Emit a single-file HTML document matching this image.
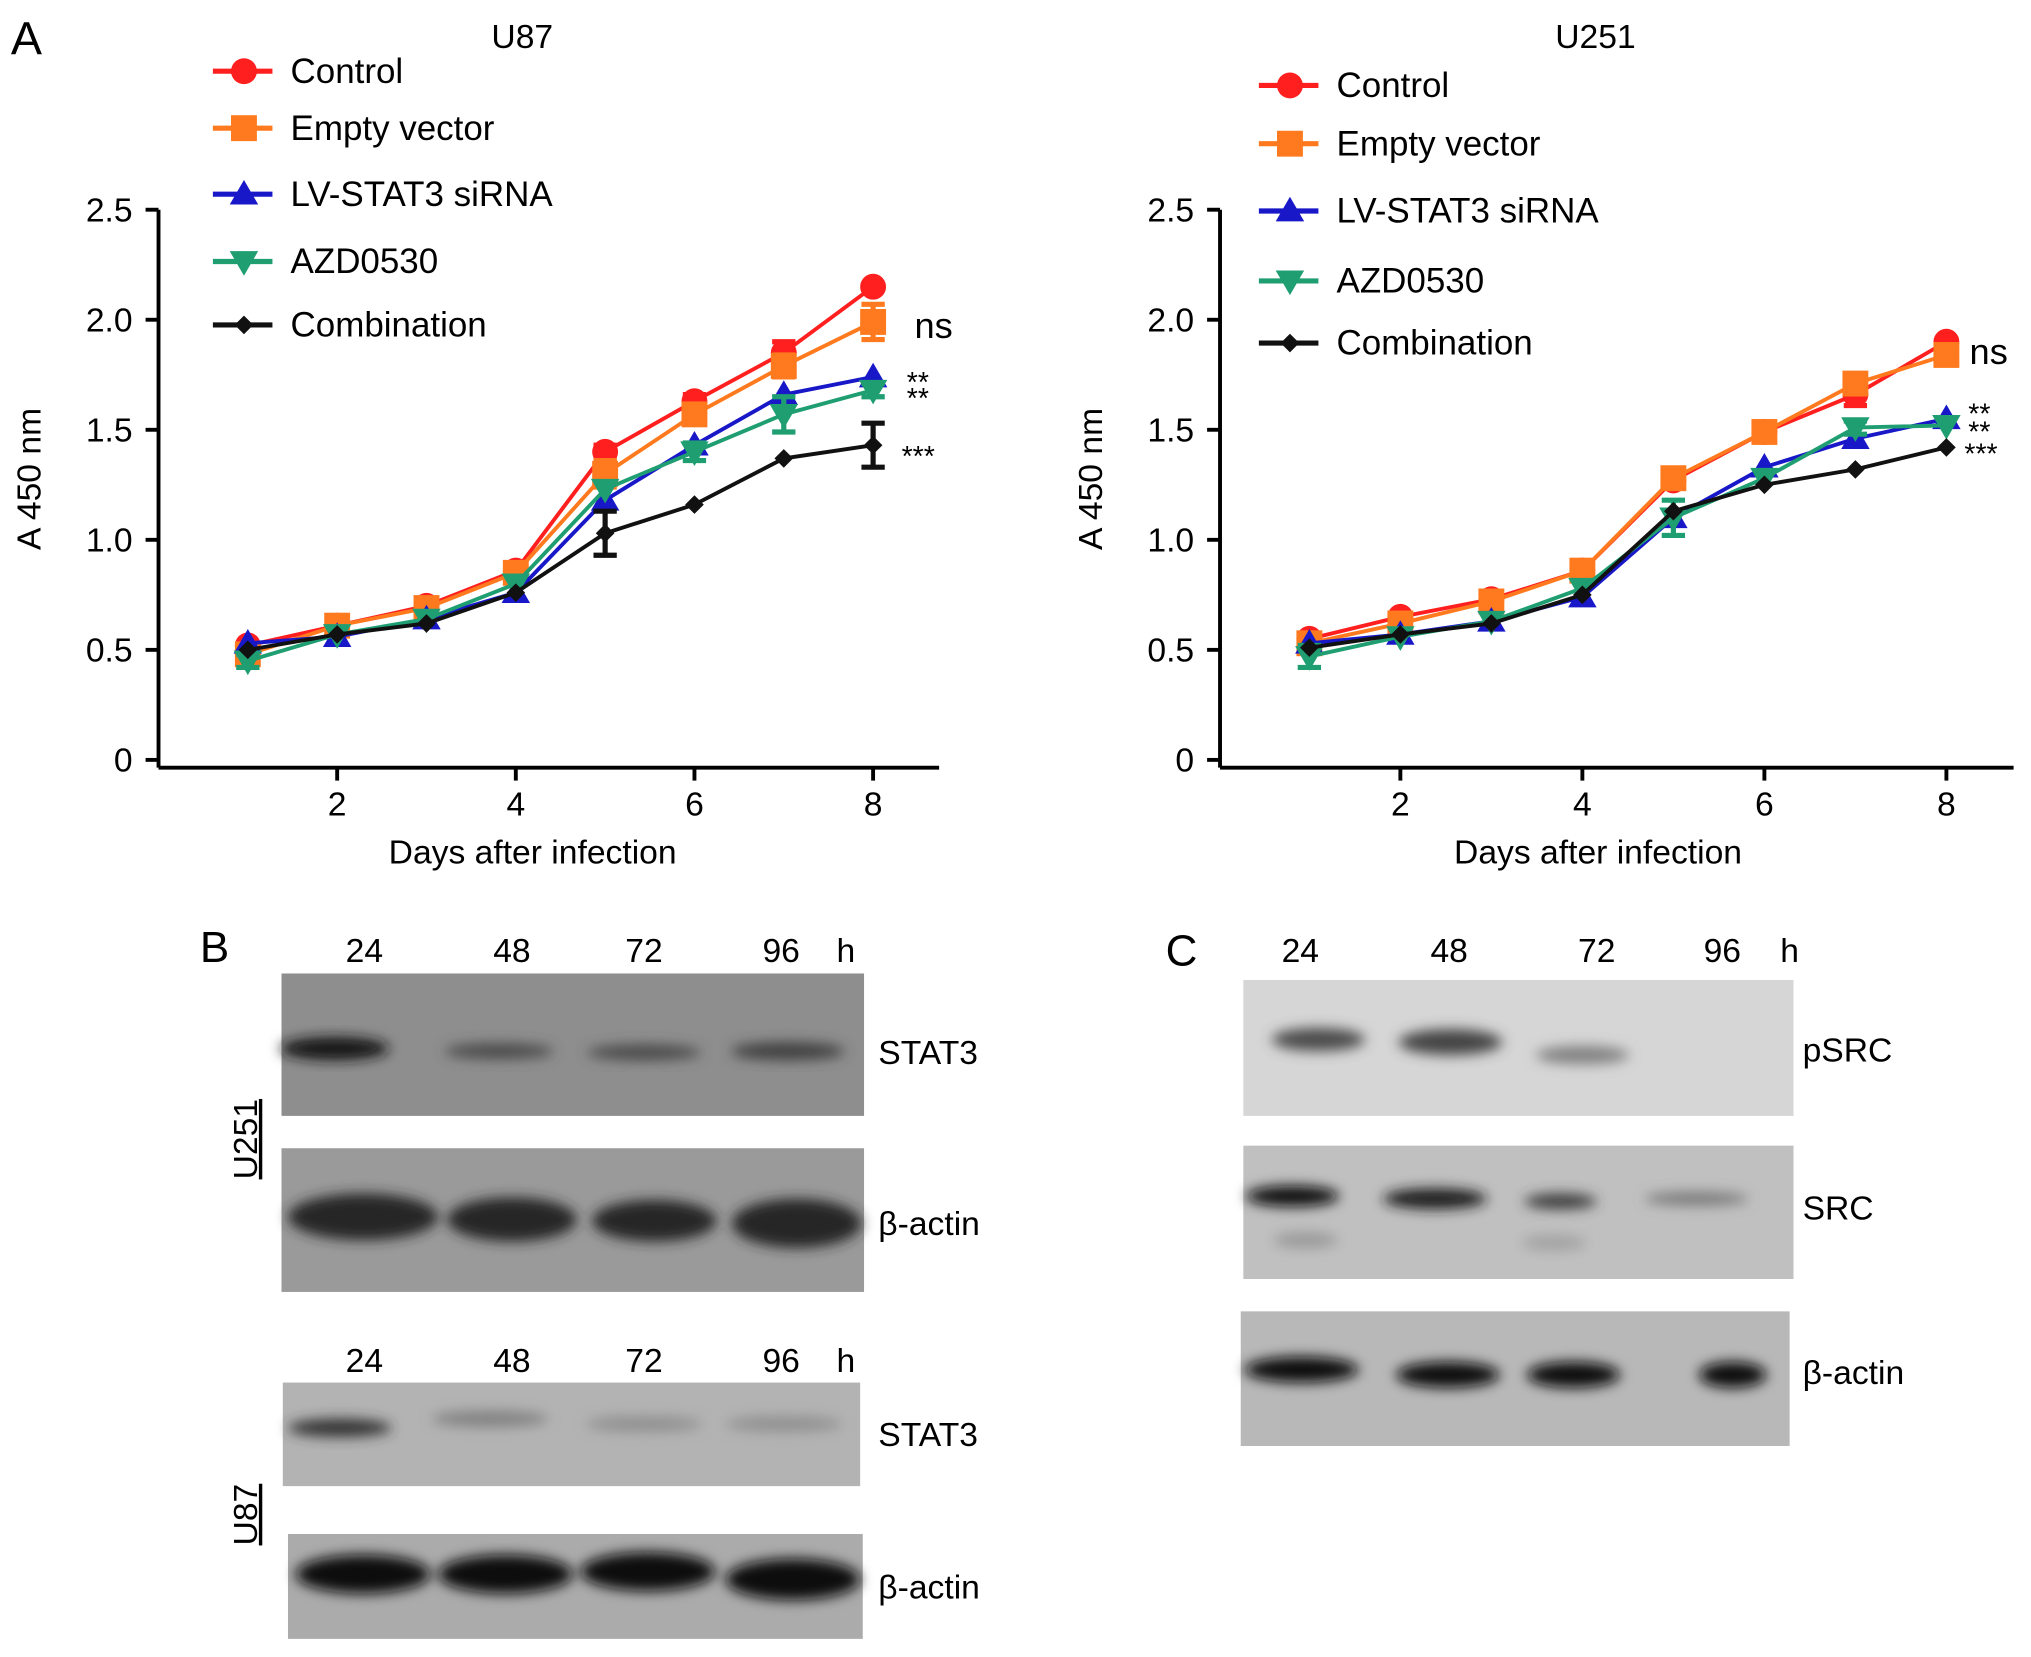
<!DOCTYPE html>
<html><head><meta charset="utf-8">
<style>
html,body{margin:0;padding:0;background:#fff;}
svg{display:block;font-family:"Liberation Sans",Arial,sans-serif;}
</style></head>
<body>
<svg id="fig" width="2031" height="1657" viewBox="0 0 1568 1280" xmlns="http://www.w3.org/2000/svg">
<defs>
<filter id="blur" x="-20%" y="-50%" width="140%" height="200%"><feGaussianBlur stdDeviation="5"/></filter>
</defs>
<text x="8" y="42" font-size="36">A</text>
<g id="chartL"></g>
<g id="chartR"></g>

<!-- Panel B -->
<g font-size="26">
<text x="154" y="743" font-size="34">B</text>
<g text-anchor="middle">
<text x="281" y="743">24</text><text x="395" y="743">48</text><text x="497" y="743">72</text><text x="603" y="743">96</text><text x="653" y="743">h</text></g>
<rect x="217" y="752" width="450" height="110" fill="#8e8e8e"/>
<g filter="url(#blur)" fill="#2a2a2a">
<ellipse cx="258" cy="810" rx="42" ry="9" fill="#151515"/><ellipse cx="385" cy="812" rx="42" ry="6" fill="#4a4a4a"/><ellipse cx="497" cy="813" rx="44" ry="6" fill="#4a4a4a"/><ellipse cx="608" cy="812" rx="44" ry="7" fill="#3f3f3f"/></g>
<rect x="217" y="887" width="450" height="111" fill="#9a9a9a"/>
<g filter="url(#blur)" fill="#262626">
<ellipse cx="280" cy="940" rx="58" ry="18"/><ellipse cx="395" cy="942" rx="50" ry="17"/><ellipse cx="505" cy="943" rx="48" ry="16"/><ellipse cx="615" cy="945" rx="50" ry="19"/></g>
<text x="678" y="822">STAT3</text><text x="678" y="954">β-actin</text>
<text transform="translate(198,880) rotate(-90)" text-anchor="middle" text-decoration="underline">U251</text>
<g text-anchor="middle">
<text x="281" y="1060">24</text><text x="395" y="1060">48</text><text x="497" y="1060">72</text><text x="603" y="1060">96</text><text x="653" y="1060">h</text></g>
<rect x="218" y="1068" width="446" height="80" fill="#b3b3b3"/>
<g filter="url(#blur)">
<ellipse cx="262" cy="1103" rx="40" ry="7" fill="#303030"/><ellipse cx="378" cy="1096" rx="45" ry="6" fill="#808080"/><ellipse cx="497" cy="1100" rx="45" ry="6" fill="#909090"/><ellipse cx="605" cy="1100" rx="45" ry="6" fill="#909090"/></g>
<rect x="222" y="1185" width="444" height="81" fill="#ababab"/>
<g filter="url(#blur)" fill="#0c0c0c">
<ellipse cx="280" cy="1216" rx="52" ry="15"/><ellipse cx="390" cy="1216" rx="52" ry="15"/><ellipse cx="500" cy="1214" rx="52" ry="15"/><ellipse cx="612" cy="1220" rx="52" ry="16"/></g>
<text x="678" y="1117">STAT3</text><text x="678" y="1235">β-actin</text>
<text transform="translate(198,1170) rotate(-90)" text-anchor="middle" text-decoration="underline">U87</text>
</g>

<!-- Panel C -->
<g font-size="26">
<text x="900" y="746" font-size="34">C</text>
<g text-anchor="middle">
<text x="1004" y="743">24</text><text x="1119" y="743">48</text><text x="1233" y="743">72</text><text x="1330" y="743">96</text><text x="1382" y="743">h</text></g>
<rect x="960" y="757" width="425" height="105" fill="#d6d6d6"/>
<g filter="url(#blur)">
<ellipse cx="1018" cy="803" rx="36" ry="9" fill="#4c4c4c"/><ellipse cx="1120" cy="805" rx="40" ry="10" fill="#444"/><ellipse cx="1222" cy="815" rx="36" ry="7" fill="#808080"/></g>
<rect x="960" y="885" width="425" height="103" fill="#c0c0c0"/>
<g filter="url(#blur)">
<ellipse cx="998" cy="924" rx="36" ry="8" fill="#0f0f0f"/><ellipse cx="1108" cy="926" rx="40" ry="8" fill="#1e1e1e"/><ellipse cx="1205" cy="928" rx="28" ry="6" fill="#3a3a3a"/><ellipse cx="1310" cy="926" rx="40" ry="5" fill="#777"/>
<ellipse cx="1008" cy="958" rx="25" ry="6" fill="#999"/><ellipse cx="1200" cy="960" rx="25" ry="6" fill="#a2a2a2"/></g>
<rect x="958" y="1013" width="424" height="104" fill="#b8b8b8"/>
<g filter="url(#blur)" fill="#0a0a0a">
<ellipse cx="1005" cy="1058" rx="44" ry="10"/><ellipse cx="1118" cy="1062" rx="40" ry="10"/><ellipse cx="1215" cy="1062" rx="36" ry="10"/><ellipse cx="1338" cy="1062" rx="26" ry="10"/></g>
<text x="1392" y="820">pSRC</text><text x="1392" y="942">SRC</text><text x="1392" y="1069">β-actin</text>
</g>

<script>
const days = [1,2,3,4,5,6,7,8];
const seriesNames = ["Control","Empty vector","LV-STAT3 siRNA","AZD0530","Combination"];
const u87Control = [0.52,0.61,0.70,0.86,1.40,1.63,1.85,2.15];
const u87Empty   = [0.48,0.61,0.69,0.85,1.30,1.57,1.79,1.99];
const u87LV      = [0.53,0.56,0.64,0.76,1.18,1.43,1.66,1.74];
const u87AZD     = [0.45,0.57,0.64,0.80,1.23,1.40,1.57,1.68];
const u87Comb    = [0.50,0.57,0.62,0.76,1.03,1.16,1.37,1.43];
const u87CombErr = [0,0,0,0,0.10,0,0,0.10];
const u87AZDErr  = [0.03,0,0,0,0,0.04,0.08,0.03];
const u87EmptyErr= [0.03,0,0,0,0.06,0,0.05,0.08];
const u87CtrlErr = [0,0,0,0,0.03,0.03,0.05,0];
const u251Control = [0.55,0.65,0.73,0.86,1.27,1.49,1.66,1.90];
const u251Empty   = [0.53,0.62,0.72,0.86,1.28,1.49,1.71,1.84];
const u251LV      = [0.53,0.57,0.63,0.74,1.10,1.33,1.46,1.55];
const u251AZD     = [0.47,0.56,0.63,0.78,1.10,1.28,1.51,1.52];
const u251Comb    = [0.51,0.57,0.62,0.75,1.13,1.25,1.32,1.42];
const u251AZDErr  = [0.05,0,0,0,0.08,0,0.03,0];
const u251CtrlErr = [0,0,0,0,0,0,0.05,0];
const yTicks = [0,0.5,1.0,1.5,2.0,2.5];
const yTickLabels = ["0","0.5","1.0","1.5","2.0","2.5"];
const xTicks = [2,4,6,8];
const u87Sig = ["ns","**","**","***"];
const u251Sig = ["ns","**","**","***"];

const NS="http://www.w3.org/2000/svg";
const colors=["#ff1f1f","#ff7a1e","#1818c8","#1f9e72","#111111"];
const shapes=["circle","square","tri","dtri","diamond"];
function el(tag,attrs,parent){const e=document.createElementNS(NS,tag);for(const k in attrs)e.setAttribute(k,attrs[k]);parent.appendChild(e);return e;}
function marker(g,shape,x,y,c,s){
  let e;
  if(shape==="circle") e=el("circle",{cx:x,cy:y,r:s,fill:c},g);
  else if(shape==="square") e=el("rect",{x:x-s,y:y-s,width:2*s,height:2*s,fill:c},g);
  else if(shape==="tri") e=el("polygon",{points:`${x},${y-s*1.1} ${x-s*1.1},${y+s*0.8} ${x+s*1.1},${y+s*0.8}`,fill:c},g);
  else if(shape==="dtri") e=el("polygon",{points:`${x},${y+s*1.1} ${x-s*1.1},${y-s*0.8} ${x+s*1.1},${y-s*0.8}`,fill:c},g);
  else e=el("polygon",{points:`${x},${y-s*0.9} ${x+s*0.9},${y} ${x},${y+s*0.9} ${x-s*0.9},${y}`,fill:c},g);
  return e;
}
function drawChart(g,cfg){
  const xs=d=>cfg.x1+(d-1)*cfg.dx;
  const ys=v=>cfg.y0-v*cfg.ky;
  const ya=el("line",{x1:cfg.ax,y1:ys(2.5),x2:cfg.ax,y2:cfg.axisY,stroke:"#000","stroke-width":3},g);
  
  
  const xa=el("line",{x1:cfg.ax,y1:cfg.axisY,x2:cfg.axEnd,y2:cfg.axisY,stroke:"#000","stroke-width":3},g);
  
  
  yTicks.forEach((v,i)=>{
    el("line",{x1:cfg.ax-10,y1:ys(v),x2:cfg.ax,y2:ys(v),stroke:"#000","stroke-width":3},g);
    const t=el("text",{x:cfg.ax-20,y:ys(v)+9,"font-size":26,"text-anchor":"end"},g);
    t.textContent=yTickLabels[i];
    
    
  });
  xTicks.forEach(d=>{
    el("line",{x1:xs(d),y1:cfg.axisY,x2:xs(d),y2:cfg.axisY+10,stroke:"#000","stroke-width":3},g);
    const t=el("text",{x:xs(d),y:cfg.axisY+37,"font-size":26,"text-anchor":"middle"},g);
    t.textContent=d;
    
    
  });
  const xt=el("text",{x:cfg.xTitleX,y:667,"font-size":26,"text-anchor":"middle"},g);
  xt.textContent="Days after infection";
  
  
  const yt=el("text",{transform:`translate(${cfg.yTitleX},370) rotate(-90)`,"font-size":26,"text-anchor":"middle"},g);
  yt.textContent="A 450 nm";
  
  
  const tt=el("text",{x:cfg.titleX,y:37,"font-size":26,"text-anchor":"middle"},g);
  tt.textContent=cfg.title;
  
  
  cfg.series.forEach((vals,si)=>{
    const sg=el("g",{},g);
    
    
    const c=colors[si];
    el("polyline",{points:vals.map((v,i)=>xs(days[i])+","+ys(v)).join(" "),fill:"none",stroke:c,"stroke-width":3},sg);
    const err=cfg.errs[si];
    if(err){vals.forEach((v,i)=>{if(err[i]>0){const x=xs(days[i]);
      el("line",{x1:x,y1:ys(v+err[i]),x2:x,y2:ys(v-err[i]),stroke:c,"stroke-width":4},sg);
      el("line",{x1:x-9,y1:ys(v+err[i]),x2:x+9,y2:ys(v+err[i]),stroke:c,"stroke-width":4},sg);
      el("line",{x1:x-9,y1:ys(v-err[i]),x2:x+9,y2:ys(v-err[i]),stroke:c,"stroke-width":4},sg);}});}
    vals.forEach((v,i)=>{
      const m=marker(sg,shapes[si],xs(days[i]),ys(v),c,si===4?8:10);
      
      
    });
    const lg=el("g",{},g);
    
    
    const ly=cfg.legY[si];
    el("line",{x1:cfg.legX-24,y1:ly,x2:cfg.legX+22,y2:ly,stroke:c,"stroke-width":4},lg);
    marker(lg,shapes[si],cfg.legX,ly,c,si===4?8:10);
    const lt=el("text",{x:cfg.legX+36,y:ly+9,"font-size":27},lg);
    lt.textContent=seriesNames[si];
  });
  cfg.sig.forEach((s,i)=>{
    const t=el("text",{x:cfg.sigX[i],y:cfg.sigY[i],"font-size":i===0?28:22},g);
    t.textContent=s;
    
    
  });
}
drawChart(document.getElementById("chartL"),{x1:191,dx:69,y0:587,ky:170,ax:122,axEnd:725,axisY:593,
  xTitleX:411,yTitleX:31,titleX:403,title:"U87",legX:188,legY:[55,99,150,202,251],
  series:[u87Control,u87Empty,u87LV,u87AZD,u87Comb],errs:[u87CtrlErr,u87EmptyErr,null,u87AZDErr,u87CombErr],
  sig:u87Sig,sigX:[706,700,700,696],sigY:[261,303,315,360]});
drawChart(document.getElementById("chartR"),{x1:1011,dx:70.3,y0:587,ky:170,ax:942,axEnd:1555,axisY:593,
  xTitleX:1234,yTitleX:851,titleX:1232,title:"U251",legX:996,legY:[66,111,163,217,265],
  series:[u251Control,u251Empty,u251LV,u251AZD,u251Comb],errs:[u251CtrlErr,null,null,u251AZDErr,null],
  sig:u251Sig,sigX:[1521,1520,1520,1517],sigY:[281,327,341,358]});
</script>
</svg>
</body></html>
